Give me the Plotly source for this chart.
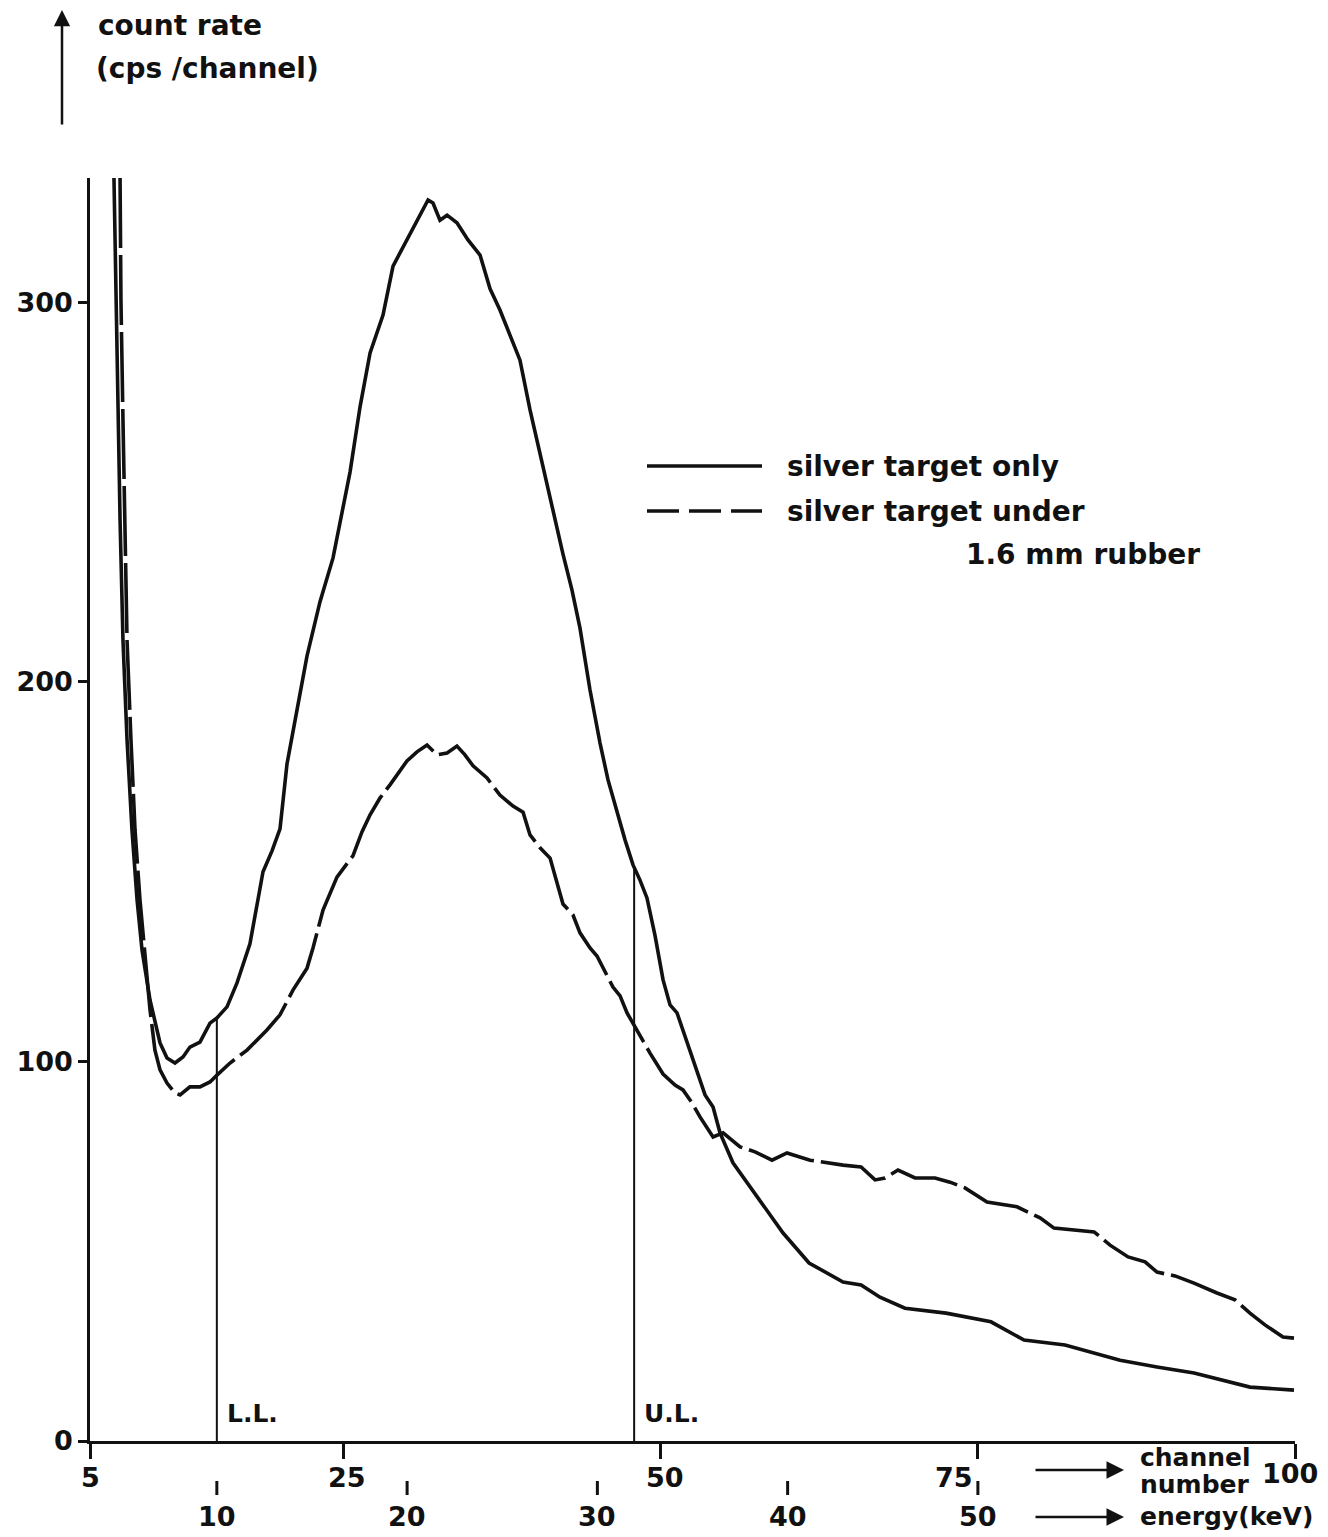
import numpy as np
import plotly.graph_objects as go

# ---- spectrum data (channel number vs count rate, cps/channel) ----
silver_only_channel = [
    6.89, 7.05, 7.21, 7.37, 7.60, 7.92, 8.31, 8.71, 9.10, 9.73, 10.52, 11.07, 11.70,
    12.33, 12.88, 13.67, 14.46, 15.01, 15.80, 16.59, 17.61, 18.17, 18.64, 19.35, 19.98,
    20.53, 21.32, 22.11, 23.13, 24.16, 25.50, 26.29, 27.08, 28.10, 28.89, 30.23,
    31.02, 31.65, 32.04, 32.59, 33.15, 33.93, 34.80, 35.75, 36.54, 37.32, 38.11,
    38.90, 39.69, 40.71, 41.50, 42.29, 43.00, 43.63, 44.42, 45.21, 45.84, 46.55,
    47.18, 47.81, 48.36, 48.91, 49.54, 50.18, 50.73, 51.28, 52.07, 52.86, 53.49,
    54.12, 54.67, 55.69, 57.03, 57.82, 59.64, 61.69, 64.37, 65.79, 67.28, 69.25,
    72.49, 76.03, 77.53, 78.64, 81.87, 86.21, 89.12, 92.04, 96.45, 99.92,
]
silver_only_rate = [
    332.8, 300.7, 269.0, 242.7, 211.0, 184.7, 161.0, 142.6, 129.4, 116.2, 104.9, 100.9, 99.6,
    101.2, 103.8, 105.1, 110.1, 111.5, 114.4, 120.7, 131.0, 142.0, 150.0, 155.5, 161.3,
    178.4, 192.6, 206.9, 221.1, 232.7, 255.3, 272.5, 286.7, 296.7, 309.6, 318.1,
    323.0, 327.0, 326.2, 321.7, 323.0, 321.0, 316.5, 312.5, 303.6, 298.0, 291.4,
    284.8, 271.7, 256.7, 245.3, 233.7, 224.2, 214.2, 197.9, 183.9, 174.2, 165.7,
    158.4, 151.8, 147.8, 143.1, 133.3, 121.5, 114.9, 112.8, 104.9, 97.5, 91.2,
    88.0, 81.2, 73.3, 66.9, 63.5, 54.8, 46.9, 41.9, 41.1, 37.9, 35.0,
    33.7, 31.4, 28.7, 26.6, 25.3, 21.3, 19.5, 17.9, 14.2, 13.4,
]

rubber_channel = [
    7.37, 7.44, 7.60, 7.76, 7.92, 8.23, 8.55, 8.94, 9.34, 9.73, 10.12, 10.52, 11.07,
    11.70, 12.10, 12.49, 12.88, 13.67, 14.46, 15.01, 16.04, 17.38, 18.95, 19.98,
    21.00, 22.11, 22.58, 23.37, 24.47, 25.73, 26.44, 27.08, 27.86, 28.65, 29.44,
    29.99, 30.78, 31.57, 32.36, 33.15, 33.93, 34.56, 35.20, 36.30, 37.32, 38.35,
    39.14, 39.69, 40.48, 41.27, 42.29, 43.08, 43.63, 44.42, 44.97, 45.60, 46.23,
    46.79, 47.34, 47.97, 49.15, 50.18, 51.12, 51.75, 52.46, 53.09, 54.12, 54.91,
    56.25, 57.43, 58.77, 59.95, 61.77, 64.37, 65.79, 66.89, 67.68, 68.70, 70.04,
    71.62, 72.80, 73.98, 75.72, 78.08, 79.90, 81.00, 82.66, 84.16, 85.42, 86.84,
    88.18, 89.12, 90.54, 92.04, 93.85, 95.27, 96.45, 97.63, 99.05, 99.92,
]
rubber_rate = [
    332.8, 300.7, 269.0, 242.7, 211.0, 184.7, 161.0, 142.6, 126.7, 113.6, 103.0, 97.8, 94.3,
    91.7, 91.2, 92.2, 93.3, 93.3, 94.6, 96.4, 99.6, 103.0, 108.3, 112.3,
    118.8, 124.6, 129.9, 139.9, 148.6, 154.2, 160.5, 165.0, 169.4, 172.9, 176.8,
    179.2, 181.6, 183.4, 180.8, 181.3, 183.1, 180.8, 177.9, 174.7, 170.2, 167.3,
    165.7, 159.7, 156.3, 153.6, 141.5, 138.6, 133.9, 129.9, 127.8, 123.6, 119.6,
    117.3, 112.8, 109.1, 102.2, 96.7, 93.8, 92.5, 89.1, 85.4, 80.1, 81.2,
    77.5, 76.2, 74.0, 75.9, 74.0, 72.7, 72.2, 68.8, 69.3, 71.4, 69.3,
    69.3, 68.2, 66.7, 63.0, 61.7, 58.8, 56.1, 55.6, 55.1, 51.6, 48.5,
    47.2, 44.5, 43.5, 41.6, 39.0, 37.2, 33.7, 30.6, 27.4, 27.1,
]

channel_ticks = [5, 25, 50, 75, 100]
count_ticks = [0, 100, 200, 300]
energy_ticks_kev = [10, 20, 30, 40, 50]
channels_per_kev = 1.5

lower_level_channel = 15.0
upper_level_channel = 47.9

series_names = ["silver target only", "silver target under 1.6 mm rubber"]

# ---- geometry of the drawing (pixels) ----
W, H = 1328, 1537
ML, MR, MT, MB = 90, 33, 178, 96
PW, PH = W - ML - MR, H - MT - MB
Y_TOP = 332.8


def px_x(px):
    return (px - ML) / PW


def px_y(py):
    return (H - MB - py) / PH


INK = "#111111"
FONT = dict(family="DejaVu Sans", size=27, color=INK, weight="bold")
TEXT = dict(FONT, size=28)

fig = go.Figure()
fig.add_trace(go.Scatter(
    x=silver_only_channel, y=silver_only_rate, mode="lines", name=series_names[0],
    line=dict(color=INK, width=3.6), showlegend=False,
))
fig.add_trace(go.Scatter(
    x=rubber_channel, y=rubber_rate, mode="lines", name=series_names[1],
    line=dict(color=INK, width=3.6, dash="70px,7px"), showlegend=False,
))

shapes = []
annotations = []

# discriminator levels, drawn up to the silver-only curve
for ch, label in [(lower_level_channel, "L.L."), (upper_level_channel, "U.L.")]:
    top = float(np.interp(ch, silver_only_channel, silver_only_rate))
    shapes.append(dict(type="line", xref="x", yref="y", x0=ch, x1=ch, y0=0, y1=top,
                       line=dict(color=INK, width=2)))
    annotations.append(dict(x=ch, y=px_y(1413), xref="x", yref="paper", text=label,
                            showarrow=False, xanchor="left", yanchor="middle", xshift=8,
                            font=dict(FONT, size=25)))

# channel tick labels
label_xshift = {5: 0, 25: 3, 50: 4, 75: -24, 100: -5}
label_y = {5: 1477, 25: 1477, 50: 1477, 75: 1477, 100: 1473}
for ch in channel_ticks:
    annotations.append(dict(x=ch, y=px_y(label_y[ch]), xref="x", yref="paper", text=str(ch),
                            showarrow=False, xanchor="center", yanchor="middle",
                            xshift=label_xshift[ch], font=FONT))

# energy scale below the channel axis
for e in energy_ticks_kev:
    ch = e * channels_per_kev
    shapes.append(dict(type="line", xref="x", yref="paper", x0=ch, x1=ch,
                       y0=px_y(1481), y1=px_y(1495), line=dict(color=INK, width=3)))
    annotations.append(dict(x=ch, y=px_y(1517), xref="x", yref="paper", text=str(e),
                            showarrow=False, xanchor="center", yanchor="middle", font=FONT))

# axis captions with arrows
for py in (1470, 1517):
    annotations.append(dict(x=px_x(1124), y=px_y(py), xref="paper", yref="paper", text="",
                            showarrow=True, ax=-90, ay=0, arrowhead=2, arrowsize=1.4,
                            arrowwidth=2.5, arrowcolor=INK))
annotations += [
    dict(x=px_x(1138), y=px_y(1458), xref="paper", yref="paper", text="channel",
         showarrow=False, xanchor="left", yanchor="middle", font=dict(FONT, size=25)),
    dict(x=px_x(1138), y=px_y(1484), xref="paper", yref="paper", text="number",
         showarrow=False, xanchor="left", yanchor="middle", font=dict(FONT, size=25)),
    dict(x=px_x(1138), y=px_y(1517), xref="paper", yref="paper", text="energy(keV)",
         showarrow=False, xanchor="left", yanchor="middle", font=dict(FONT, size=25)),
    dict(x=px_x(62), y=px_y(10), xref="paper", yref="paper", text="",
         showarrow=True, ax=0, ay=116, arrowhead=2, arrowsize=1.3,
         arrowwidth=2.5, arrowcolor=INK),
    dict(x=px_x(96), y=px_y(25), xref="paper", yref="paper", text="count rate",
         showarrow=False, xanchor="left", yanchor="middle", font=TEXT),
    dict(x=px_x(94), y=px_y(68), xref="paper", yref="paper", text="(cps /channel)",
         showarrow=False, xanchor="left", yanchor="middle", font=TEXT),
]

# hand-drawn key
shapes += [
    dict(type="line", xref="paper", yref="paper", x0=px_x(647), x1=px_x(762),
         y0=px_y(466), y1=px_y(466), line=dict(color=INK, width=3.4)),
    dict(type="line", xref="paper", yref="paper", x0=px_x(647), x1=px_x(762),
         y0=px_y(511), y1=px_y(511), line=dict(color=INK, width=3.4, dash="32px,10px")),
]
annotations += [
    dict(x=px_x(785), y=px_y(466), xref="paper", yref="paper", text=series_names[0],
         showarrow=False, xanchor="left", yanchor="middle", font=TEXT),
    dict(x=px_x(785), y=px_y(511), xref="paper", yref="paper", text="silver target under",
         showarrow=False, xanchor="left", yanchor="middle", font=TEXT),
    dict(x=px_x(1202), y=px_y(554), xref="paper", yref="paper", text="1.6 mm rubber",
         showarrow=False, xanchor="right", yanchor="middle", font=TEXT),
]

fig.update_layout(
    width=W, height=H,
    margin=dict(l=ML, r=MR, t=MT, b=MB, pad=0),
    paper_bgcolor="white", plot_bgcolor="white",
    shapes=shapes, annotations=annotations,
    showlegend=False,
    font=FONT,
)
fig.update_xaxes(
    range=[channel_ticks[0], channel_ticks[-1]], showgrid=False, zeroline=False,
    showline=True, linecolor=INK, linewidth=3,
    tickvals=channel_ticks, ticks="outside", ticklen=15, tickwidth=3, tickcolor=INK,
    showticklabels=False,
)
fig.update_yaxes(
    range=[0, Y_TOP], showgrid=False, zeroline=False,
    showline=True, linecolor=INK, linewidth=2.5,
    tickvals=count_ticks, ticks="outside", ticklen=9, tickwidth=2.5, tickcolor=INK,
    tickfont=FONT,
)

fig.write_html("out.html")
